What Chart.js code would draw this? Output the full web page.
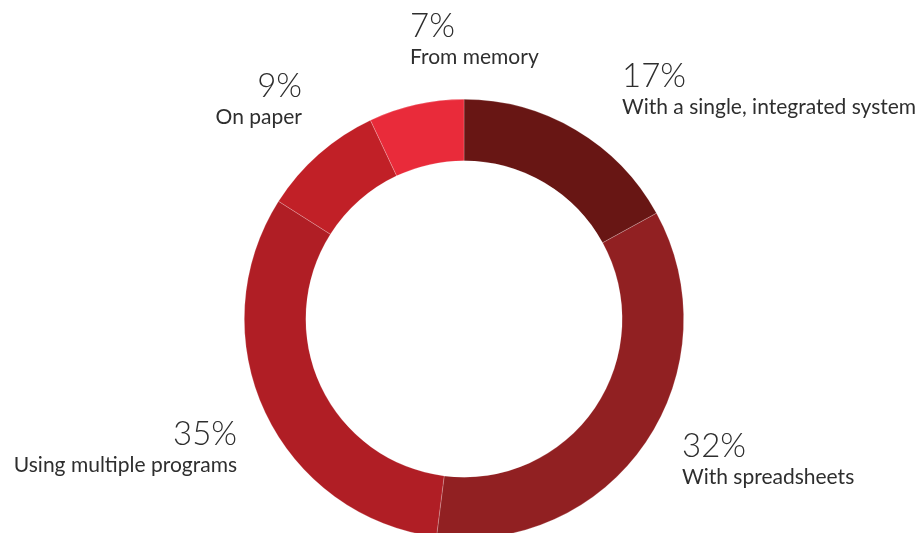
<!DOCTYPE html>
<html>
<head>
<meta charset="utf-8">
<script src="https://cdn.jsdelivr.net/npm/chart.js@4"></script>
<style>
  html, body { margin: 0; padding: 0; background: #fff; overflow: hidden; }
  #wrap { width: 920px; height: 533px; overflow: hidden; }
</style>
</head>
<body>
<div id="wrap"><canvas id="chart" width="920" height="560"></canvas></div>
<script>
// data, clockwise from 12 o'clock
const categories = ['With a single, integrated system', 'With spreadsheets', 'Using multiple programs', 'On paper', 'From memory'];
// arc sizes as drawn in the picture (spreadsheets arc is the larger one)
const arcShares = [17, 35, 32, 9, 7];
// percentages as printed next to each arc
const printedShares = [17, 32, 35, 9, 7];
const sliceColors = ['#681614', '#912022', '#b01e25', '#c12027', '#e92b3a'];

// label anchors, relative to the donut centre: [dx, dy of percent baseline, align]
const labelAnchors = [
    [158, -232, 'left'],
    [218, 138, 'left'],
    [-227, 126, 'right'],
    [-162, -222, 'right'],
    [-54, -282, 'left']
];

const sliceLabels = {
    id: 'sliceLabels',
    afterDraw(chart) {
        const ctx = chart.ctx;
        const arc = chart.getDatasetMeta(0).data[0];
        const cx = arc.x, cy = arc.y;
        ctx.save();
        ctx.fillStyle = '#2e2e2e';
        ctx.textBaseline = 'alphabetic';
        categories.forEach((name, i) => {
            const [dx, dy, align] = labelAnchors[i];
            ctx.textAlign = align;
            ctx.font = '300 33px Lato';
            ctx.fillText(printedShares[i] + '%', cx + dx, cy + dy);
            ctx.font = '400 21px Lato';
            ctx.fillText(name, cx + dx, cy + dy + 27);
        });
        ctx.restore();
    }
};

new Chart(document.getElementById('chart'), {
    type: 'doughnut',
    data: {
        labels: categories,
        datasets: [{
            data: arcShares,
            backgroundColor: sliceColors,
            borderColor: 'rgba(255,255,255,0.35)',
            borderWidth: 0.6
        }]
    },
    options: {
        responsive: false,
        animation: false,
        devicePixelRatio: 1,
        cutout: '72%',
        layout: { padding: { top: 99, bottom: 21, left: 244, right: 236 } },
        plugins: { legend: { display: false }, tooltip: { enabled: false } }
    },
    plugins: [sliceLabels]
});
</script>
</body>
</html>
